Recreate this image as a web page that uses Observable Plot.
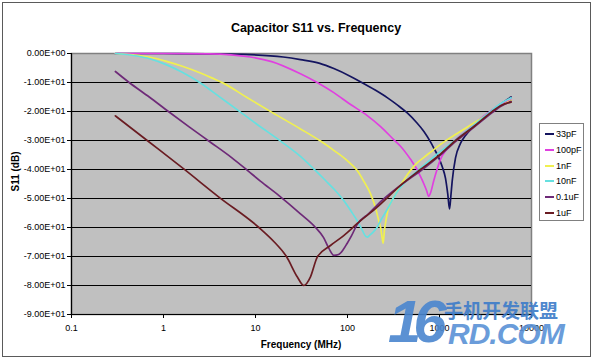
<!DOCTYPE html>
<html><head><meta charset="utf-8">
<script src="https://cdn.jsdelivr.net/npm/d3@7"></script>
<script src="https://cdn.jsdelivr.net/npm/@observablehq/plot@0.6"></script>
<style>
body{margin:0;background:#fff;}
#wrap{position:relative;width:593px;height:359px;overflow:hidden;font-family:"Liberation Sans",Arial,sans-serif;background:#fff;}
#wrap svg{position:absolute;left:0;top:0;}
.abs{position:absolute;white-space:nowrap;}
#border{position:absolute;left:2px;top:2px;width:587px;height:353px;border:1px solid #5a5a5a;pointer-events:none;}
#title{left:206px;width:220px;top:21px;text-align:center;font-size:12.5px;font-weight:bold;color:#000;}
#xlab{left:221px;width:160px;top:339px;text-align:center;font-size:10px;font-weight:bold;}
#ylab{left:-35px;width:100px;top:166px;text-align:center;font-size:10px;font-weight:bold;transform:rotate(-90deg);}
#legend{position:absolute;left:539px;top:123px;width:45px;height:98px;border:1px solid #808080;background:#fff;box-sizing:border-box;}
.lg-line{position:absolute;left:5px;width:9px;height:2px;}
.lg-text{position:absolute;left:16px;font-size:9px;line-height:10px;}
.wm{position:absolute;white-space:nowrap;color:#3d7cc9;opacity:0.9;}
</style></head>
<body><div id="wrap"></div>
<script>
// ---- data ----
const seriesNames = ["33pF", "100pF", "1nF", "10nF", "0.1uF", "1uF"];
const seriesColors = ["#14145f", "#e040e0", "#f0f050", "#66e0e0", "#6e2a78", "#6a1c22"];

const f_33pF = [0.3,1,3,8.8,20,30.8,50,71,108,138,200,270,350,446,560,677,798,867,984,1069,1161,1230,1285,1330,1374,1493,1690,1917,2300,3000,3741,4600,6000];
const s_33pF = [0,0,-0.1,-0.4,-1.2,-2.1,-3.4,-5.2,-7.9,-9.7,-12.6,-15.2,-17.8,-20.5,-23.7,-26.9,-30.5,-32.6,-36,-39,-43,-48.5,-53.6,-49,-44,-36,-31,-28.3,-25.5,-22.5,-19.8,-17.5,-15];

const f_100pF = [0.3,1,3.2,8.8,15,30.8,46.8,71,108,164,229,318,377,484,571,621,677,730,760,800,867,940,1025,1200,1555,2000,2800,3741,4600,6000];
const s_100pF = [0,0,-0.1,-1.2,-2.8,-7,-10,-13.5,-17.6,-21.4,-25.2,-29.7,-32,-36.5,-40,-42.4,-45,-47.6,-49.3,-48,-43.8,-40,-36.5,-33,-29.3,-26.5,-22.5,-19.5,-17.5,-15.6];

const f_1nF = [0.3,0.47,0.72,1.1,1.6,2.52,3.4,4.53,8,15.1,30.8,50.9,71,100,127,150,178,201,220,229,238,244,252,262,275,306,340,377,430,484,560,677,800,1150,1555,2000,2790,3500,4240,6000];
const s_1nF = [0,-0.5,-1.3,-2.8,-4.4,-6.7,-8.5,-10.3,-15.1,-20.3,-26,-30.2,-33.4,-37,-40.3,-44,-48.4,-53,-58,-60,-63.5,-65.4,-61,-57.5,-54,-50.5,-48,-45.5,-42.6,-40.3,-38,-35.8,-34,-30.2,-27.6,-25.4,-22.6,-20.6,-18.9,-16.2];

const f_10nF = [0.3,0.475,0.72,1.1,1.6,2.52,4,6.87,11,18.7,30.8,43,57.7,75,91,110,127,145,157,164,175,190,210,229,270,320,370,450,621,900,1493,2300,3741,4600,6000];
const s_10nF = [0,-0.7,-1.9,-4.0,-6.5,-10.2,-14.8,-20.2,-25,-30.2,-35.5,-39.8,-43.8,-47.5,-50.7,-54.5,-57.6,-61,-63,-63.3,-62.6,-61.6,-59.9,-57.6,-53.8,-49.5,-46.5,-43.5,-39.6,-35.2,-29.8,-25,-19.5,-17.3,-15.3];

const f_01uF = [0.3,0.42,0.7,1.14,1.9,3.24,5.5,8.1,11.3,18,30.8,44.9,55,63,71,80,90,99,110,127,170,234,400,621,1000,1493,2400,3741,4600,6000];
const s_01uF = [-6.2,-9.9,-15,-20.1,-25.3,-30.6,-35.9,-40.2,-44,-49,-55.3,-60,-63.5,-67.3,-69.6,-69.3,-67.6,-65.5,-63,-59,-55.2,-50.8,-44.8,-40.5,-35.3,-30.4,-25.3,-20.4,-18.3,-16.5];

const f_1uF = [0.3,0.665,1.66,4,10.9,16,21.7,28.4,33.5,39.6,46.9,65.3,91,127,210,377,621,1000,1493,2400,3741,4600,6000];
const s_1uF = [-21.5,-30,-39.8,-49.5,-60,-65,-70,-77,-80,-77,-70.2,-66.2,-62.8,-58.7,-53,-45.5,-40,-35,-30,-25,-20,-18,-16.8];

const yTicks = [0,-10,-20,-30,-40,-50,-60,-70,-80,-90];
const yTickLabels = ["0.00E+00","-1.00E+01","-2.00E+01","-3.00E+01","-4.00E+01","-5.00E+01","-6.00E+01","-7.00E+01","-8.00E+01","-9.00E+01"];
const xTicks = [0.1,1,10,100,1000,10000];
const xTickLabels = ["0.1","1","10","100","1000","10000"];
const gridLines = [-10,-20,-30,-40,-50,-60,-70,-80];

const titleText = "Capacitor S11 vs. Frequency";
const xTitle = "Frequency (MHz)";
const yTitle = "S11 (dB)";

// ---- build ----
const freqs = [f_33pF, f_100pF, f_1nF, f_10nF, f_01uF, f_1uF];
const vals = [s_33pF, s_100pF, s_1nF, s_10nF, s_01uF, s_1uF];
const rows = [];
seriesNames.forEach((name, k) => {
  freqs[k].forEach((f, i) => rows.push({series: name, f, s: vals[k][i]}));
});
const yLab = new Map(yTicks.map((d, i) => [d, yTickLabels[i]]));
const xLab = new Map(xTicks.map((d, i) => [d, xTickLabels[i]]));

const chart = Plot.plot({
  width: 593, height: 359,
  marginLeft: 71, marginRight: 62, marginTop: 53, marginBottom: 45,
  style: {fontFamily: "'Liberation Sans', Arial, sans-serif", fontSize: "9px", background: "transparent", color: "#000"},
  x: {type: "log", domain: [0.1, 10000]},
  y: {domain: [-90, 0]},
  color: {domain: seriesNames, range: seriesColors},
  marks: [
    Plot.frame({fill: "#c0c0c0", stroke: "#808080", strokeWidth: 1.5}),
    Plot.ruleY(gridLines, {stroke: "#000", strokeWidth: 1}),
    Plot.line(rows, {x: "f", y: "s", z: "series", stroke: "series", strokeWidth: 1.7, curve: "monotone-x"}),
    Plot.ruleX([0.1], {stroke: "#000", strokeWidth: 1.2}),
    Plot.ruleY([-90], {stroke: "#000", strokeWidth: 1.2}),
    Plot.axisY(yTicks, {tickSize: 4, tickPadding: 2, tickFormat: d => yLab.get(d), label: null, fontSize: 9}),
    Plot.axisX(xTicks, {tickSize: 4, tickPadding: 6, tickFormat: d => xLab.get(d), label: null, fontSize: 9})
  ]
});

const wrap = document.getElementById("wrap");
wrap.appendChild(chart);

function addDiv(id, cls, text) {
  const d = document.createElement("div");
  if (id) d.id = id;
  d.className = cls;
  d.textContent = text;
  wrap.appendChild(d);
  return d;
}
addDiv("title", "abs", titleText);
addDiv("xlab", "abs", xTitle);
addDiv("ylab", "abs", yTitle);

const legend = document.createElement("div");
legend.id = "legend";
const ys = [10, 26, 42, 57, 73, 89];
seriesNames.forEach((name, i) => {
  const ln = document.createElement("div");
  ln.className = "lg-line";
  ln.style.top = (ys[i] - 1) + "px";
  ln.style.background = seriesColors[i];
  legend.appendChild(ln);
  const tx = document.createElement("div");
  tx.className = "lg-text";
  tx.style.top = (ys[i] - 5) + "px";
  tx.textContent = name;
  legend.appendChild(tx);
});
wrap.appendChild(legend);

// watermark
const w1 = addDiv(null, "wm", "16");
Object.assign(w1.style, {left: "388px", top: "290px", fontSize: "60px", fontWeight: "bold", fontStyle: "italic", letterSpacing: "-8px", lineHeight: "64px", color: "#4a86cf"});
const w2 = addDiv(null, "wm", "手机开发联盟");
Object.assign(w2.style, {left: "444px", top: "300px", fontSize: "19px", fontWeight: "bold", fontFamily: "'Noto Sans CJK SC', sans-serif", lineHeight: "20px", color: "#3d7cc9"});
const w3 = addDiv(null, "wm", "RD.COM");
Object.assign(w3.style, {left: "448px", top: "318px", fontSize: "30px", fontWeight: "bold", fontStyle: "italic", lineHeight: "32px", color: "#5a92d6", letterSpacing: "-1px"});

addDiv("border", "", "");
</script></body></html>
